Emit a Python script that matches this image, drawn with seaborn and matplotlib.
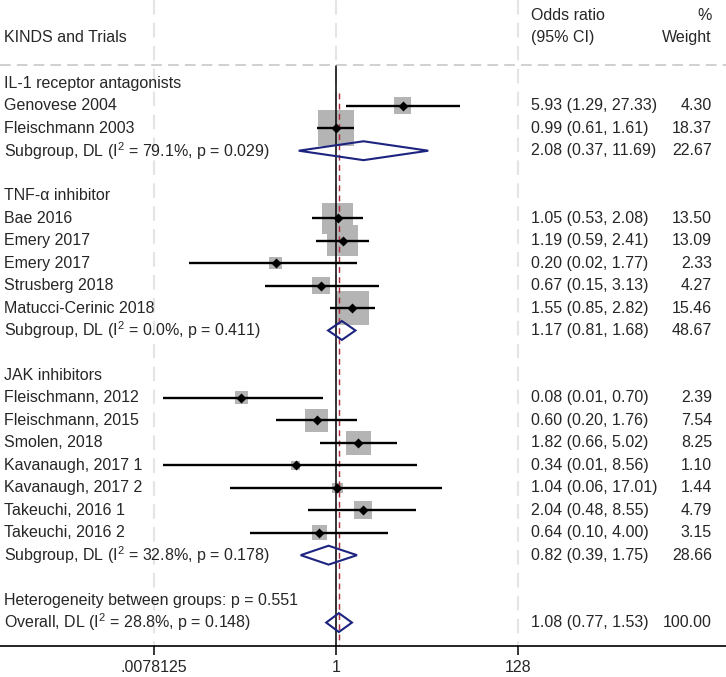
import numpy as np
import pandas as pd
import matplotlib
matplotlib.use("Agg")
import matplotlib.pyplot as plt
from matplotlib.patches import Polygon
from matplotlib.ticker import FixedLocator, FixedFormatter
import matplotlib.transforms as mtransforms
import seaborn as sns

# ---------------- data ----------------
group_names = ["IL-1 receptor antagonists", "TNF-α inhibitor", "JAK inhibitors"]

il1_trials = ["Genovese 2004", "Fleischmann 2003"]
il1_or = [5.93, 0.99]
il1_lo = [1.29, 0.61]
il1_hi = [27.33, 1.61]
il1_w = [4.30, 18.37]

tnf_trials = ["Bae 2016", "Emery 2017", "Emery 2017", "Strusberg 2018", "Matucci-Cerinic 2018"]
tnf_or = [1.05, 1.19, 0.20, 0.67, 1.55]
tnf_lo = [0.53, 0.59, 0.02, 0.15, 0.85]
tnf_hi = [2.08, 2.41, 1.77, 3.13, 2.82]
tnf_w = [13.50, 13.09, 2.33, 4.27, 15.46]

jak_trials = ["Fleischmann, 2012", "Fleischmann, 2015", "Smolen, 2018", "Kavanaugh, 2017 1",
              "Kavanaugh, 2017 2", "Takeuchi, 2016 1", "Takeuchi, 2016 2"]
jak_or = [0.08, 0.60, 1.82, 0.34, 1.04, 2.04, 0.64]
jak_lo = [0.01, 0.20, 0.66, 0.01, 0.06, 0.48, 0.10]
jak_hi = [0.70, 1.76, 5.02, 8.56, 17.01, 8.55, 4.00]
jak_w = [2.39, 7.54, 8.25, 1.10, 1.44, 4.79, 3.15]

sub_or = [2.08, 1.17, 0.82]
sub_lo = [0.37, 0.81, 0.39]
sub_hi = [11.69, 1.68, 1.75]
sub_w = [22.67, 48.67, 28.66]
sub_i2 = ["79.1", "0.0", "32.8"]
sub_p = ["0.029", "0.411", "0.178"]

overall_or, overall_lo, overall_hi, overall_w = 1.08, 0.77, 1.53, 100.00
overall_i2, overall_p = "28.8", "0.148"
het_p = "0.551"

tick_vals = [0.0078125, 1, 128]
tick_labels = [".0078125", "1", "128"]

# ---------------- layout ----------------
groups = [
    (il1_trials, il1_or, il1_lo, il1_hi, il1_w),
    (tnf_trials, tnf_or, tnf_lo, tnf_hi, tnf_w),
    (jak_trials, jak_or, jak_lo, jak_hi, jak_w),
]

study_rows = []
sub_rows = []
labels = []  # (row, text)
row = 0
for gi, (names, ors, los, his, ws) in enumerate(groups):
    labels.append((row, group_names[gi]))
    row += 1
    for n, o, l, h, w in zip(names, ors, los, his, ws):
        study_rows.append(dict(name=n, OR=o, lo=l, hi=h, w=w, y=row))
        labels.append((row, n))
        row += 1
    sub_rows.append(dict(OR=sub_or[gi], lo=sub_lo[gi], hi=sub_hi[gi], w=sub_w[gi], y=row,
                         i2=sub_i2[gi], p=sub_p[gi]))
    labels.append((row, f"Subgroup, DL (I$^2$ = {sub_i2[gi]}%, p = {sub_p[gi]})"))
    row += 2
het_row = row
overall_row = row + 1
labels.append((het_row, f"Heterogeneity between groups: p = {het_p}"))
labels.append((overall_row, f"Overall, DL (I$^2$ = {overall_i2}%, p = {overall_p})"))

df = pd.DataFrame(study_rows)
sdf = pd.DataFrame(sub_rows)

# ---------------- style ----------------
sns.set_theme(style="white")
plt.rcParams["font.family"] = ["Liberation Sans", "DejaVu Sans"]
plt.rcParams["mathtext.default"] = "regular"
FS = 11.5

W, H = 726, 677
fig = plt.figure(figsize=(W / 100, H / 100), dpi=100)
axis_px = 646
ax = fig.add_axes([0, (H - axis_px) / H, 1, axis_px / H])
ax.set_xscale("log", base=2)

null_px, unit_px = 336.0, 26.0
ax.set_xlim(2 ** (-null_px / unit_px), 2 ** ((W - null_px) / unit_px))
row0_px, row_px = 83.3, 22.47
ax.set_ylim((axis_px - row0_px) / row_px, -row0_px / row_px)

for s in ["top", "left", "right"]:
    ax.spines[s].set_visible(False)
ax.spines["bottom"].set_color("black")
ax.spines["bottom"].set_linewidth(1.2)
ax.set_yticks([])
ax.xaxis.set_major_locator(FixedLocator(tick_vals))
ax.xaxis.set_major_formatter(FixedFormatter(tick_labels))
ax.xaxis.set_minor_locator(FixedLocator([]))
ax.tick_params(axis="x", which="major", direction="out", length=6.5, width=1.1,
               color="black", labelsize=FS, pad=3.5, bottom=True)

ytop = ax.get_ylim()[1]
ybot = ax.get_ylim()[0]

# vertical grid lines
for tv in tick_vals:
    ax.plot([tv, tv], [ytop, ybot], color="#e4e4e4", lw=1.5, ls=(0, (7, 4)), zorder=0)

# header dashed line
hdr_y = (65 - row0_px) / row_px
ax.plot(ax.get_xlim(), [hdr_y, hdr_y], color="#c4c4c4", lw=1.1, ls=(0, (7, 4)), zorder=0.5)

# weight boxes
sns.scatterplot(data=df, x="OR", y="y", size="w", sizes=(0, 36.6 * 100), size_norm=(0, 100),
                marker="s", color="#b4b4b4", linewidth=0, legend=False, ax=ax, zorder=1)

# null line & overall line
ax.plot([1, 1], [(66 - row0_px) / row_px, ybot], color="black", lw=1.1, zorder=2)
ax.plot([overall_or, overall_or], [(93 - row0_px) / row_px, ybot], color="#ad3040",
        lw=1.05, ls=(0, (4, 3)), zorder=2.5)

# CI lines
ax.hlines(df["y"], df["lo"], df["hi"], color="black", lw=1.7, zorder=3)

# point estimates
sns.scatterplot(data=df, x="OR", y="y", marker="D", s=26, color="black", linewidth=0,
                legend=False, ax=ax, zorder=4)

# diamonds
navy = "#1c2480"
hh = 0.42
diam = list(zip(sdf["OR"], sdf["lo"], sdf["hi"], sdf["y"])) + [(overall_or, overall_lo, overall_hi, overall_row)]
for o, l, h, y in diam:
    poly = Polygon([(l, y), (o, y - hh), (h, y), (o, y + hh)], closed=True, fill=False,
                   edgecolor=navy, lw=1.5, zorder=5, joinstyle="miter")
    ax.add_patch(poly)

ax.set_xlabel("")
ax.set_ylabel("")
ax.xaxis.label.set_visible(False)
ax.yaxis.label.set_visible(False)

# texts
tr = mtransforms.blended_transform_factory(ax.transAxes, ax.transData)
x_left = 4.5 / W
x_or = 531 / W
x_w = 712 / W

def ytxt(px):
    return (px - row0_px) / row_px

ax.text(x_left, ytxt(37), "KINDS and Trials", transform=tr, ha="left", va="center", fontsize=FS)
ax.text(x_or, ytxt(15), "Odds ratio", transform=tr, ha="left", va="center", fontsize=FS)
ax.text(x_or, ytxt(37), "(95% CI)", transform=tr, ha="left", va="center", fontsize=FS)
ax.text(x_w, ytxt(15), "%", transform=tr, ha="right", va="center", fontsize=FS)
ax.text(x_w, ytxt(37), "Weight", transform=tr, ha="right", va="center", fontsize=FS)

for r, t in labels:
    ax.text(x_left, r, t, transform=tr, ha="left", va="center", fontsize=FS)

stat_rows = [(r["y"], r["OR"], r["lo"], r["hi"], r["w"]) for r in study_rows]
stat_rows += [(r["y"], r["OR"], r["lo"], r["hi"], r["w"]) for r in sub_rows]
stat_rows += [(overall_row, overall_or, overall_lo, overall_hi, overall_w)]
for y, o, l, h, w in stat_rows:
    ax.text(x_or, y, f"{o:.2f} ({l:.2f}, {h:.2f})", transform=tr, ha="left", va="center", fontsize=FS)
    ax.text(x_w, y, f"{w:.2f}", transform=tr, ha="right", va="center", fontsize=FS)

fig.savefig("out.png", dpi=100)
